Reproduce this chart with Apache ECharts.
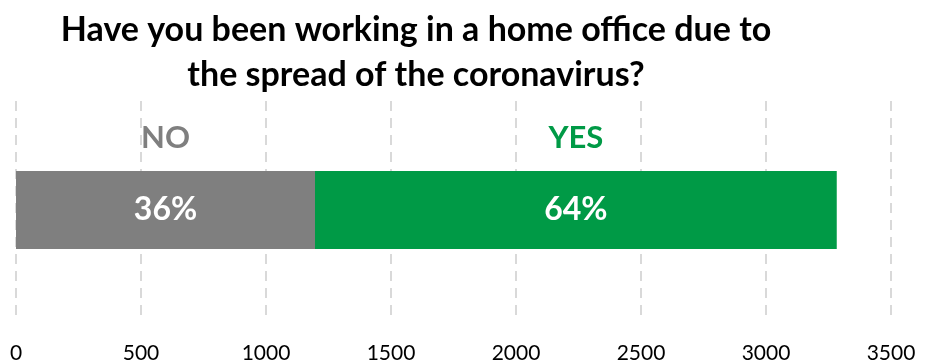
<!DOCTYPE html>
<html>
<head>
<meta charset="utf-8">
<script src="https://cdn.jsdelivr.net/npm/echarts@6/dist/echarts.min.js"></script>
<style>
  html, body { margin: 0; padding: 0; background: #fff; }
  #chart { width: 928px; height: 364px; }
</style>
</head>
<body>
<div id="chart"></div>
<script>
// Survey answers: number of respondents per answer
const answers = ['NO', 'YES'];
const respondents = [1196, 2087];
const answerColors = ['#7f7f7f', '#009a46'];
const axisTicks = [0, 500, 1000, 1500, 2000, 2500, 3000, 3500];

const total = respondents.reduce((a, b) => a + b, 0);
const fontFamily = 'Lato, "Open Sans", sans-serif';

const series = [];
answers.forEach((name, i) => {
  // visible stacked segment with the share inside
  series.push({
    name: name,
    type: 'bar',
    stack: 'share',
    barWidth: 78,
    data: [respondents[i]],
    itemStyle: { color: answerColors[i] },
    label: {
      show: true,
      position: 'inside',
      formatter: () => Math.round(respondents[i] / total * 100) + '%',
      color: '#fff',
      fontFamily: fontFamily,
      fontWeight: 'bold',
      fontSize: 32
    },
    z: 3
  });
});
answers.forEach((name, i) => {
  // transparent twin segment that carries the answer name above the bar
  series.push({
    name: name + '-caption',
    type: 'bar',
    stack: 'caption',
    barWidth: 78,
    barGap: '-100%',
    data: [respondents[i]],
    itemStyle: { color: 'rgba(0,0,0,0)' },
    label: {
      show: true,
      position: 'top',
      distance: 18,
      formatter: name,
      color: answerColors[i],
      fontFamily: fontFamily,
      fontWeight: 'bold',
      fontSize: 31
    },
    silent: true,
    z: 2
  });
});

const chart = echarts.init(document.getElementById('chart'));
chart.setOption({
  animation: false,
  title: {
    text: 'Have you been working in a home office due to\nthe spread of the coronavirus?',
    left: 411,
    top: 3,
    textAlign: 'center',
    textStyle: {
      fontFamily: fontFamily,
      fontWeight: 'bold',
      fontSize: 34,
      lineHeight: 45,
      color: '#000'
    }
  },
  grid: { left: 16, right: 37, top: 101, bottom: 45, containLabel: false },
  xAxis: {
    type: 'value',
    min: axisTicks[0],
    max: axisTicks[axisTicks.length - 1],
    interval: axisTicks[1] - axisTicks[0],
    axisLine: { show: false },
    axisTick: { show: false },
    axisLabel: {
      margin: 24,
      formatter: (v) => String(v),
      fontFamily: fontFamily,
      fontSize: 21,
      color: '#000'
    },
    splitLine: {
      show: true,
      lineStyle: { color: '#d9d9d9', width: 2, type: [10, 7] }
    }
  },
  yAxis: {
    type: 'category',
    data: ['answer'],
    show: false
  },
  series: series
});
</script>
</body>
</html>
